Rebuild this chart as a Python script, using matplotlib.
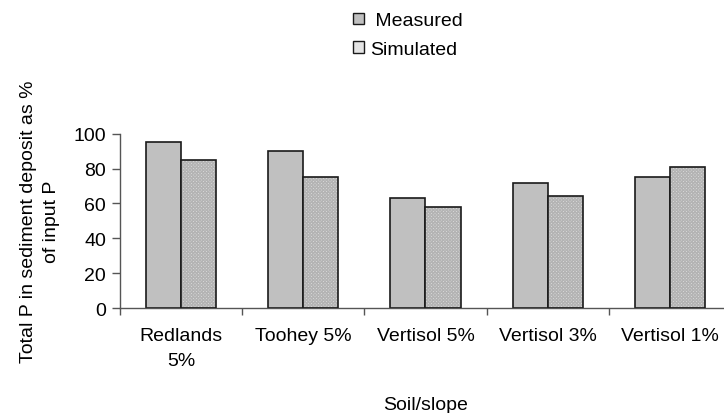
import matplotlib
matplotlib.use("Agg")
import matplotlib.pyplot as plt
from matplotlib.patches import Patch
import numpy as np

# data
soils = ["Redlands\n5%", "Toohey 5%", "Vertisol 5%", "Vertisol 3%", "Vertisol 1%"]
measured = [95, 90, 63, 72, 75]
simulated = [85, 75, 58, 64, 81]
y_ticks = [0, 20, 40, 60, 80, 100]

plt.rcParams['font.family'] = ['Liberation Sans', 'DejaVu Sans']
plt.rcParams['font.size'] = 14

fig = plt.figure(figsize=(7.24, 4.14), dpi=100)
ax = fig.add_axes([0.1657, 0.2536, 0.844, 0.421])

x = np.arange(len(soils))
w = 0.287
# measured bars: plain grey
ax.bar(x - w / 2, measured, w, color="#c0c0c0", edgecolor="#1a1a1a", linewidth=1.2, zorder=2)
# simulated bars: fine dotted fill, then a black outline on top
ax.bar(x + w / 2, simulated, w, color="#e4e4e4", edgecolor="#b4b4b4", hatch="xxxxxxxxxx",
       linewidth=0, zorder=2)
ax.bar(x + w / 2, simulated, w, color="none", edgecolor="#1a1a1a", linewidth=1.2, zorder=3)

ax.set_xlim(-0.5, len(soils) - 0.5)
ax.set_ylim(0, 100)
ax.set_yticks(y_ticks)
ax.set_xticks(x)
ax.set_xticklabels(soils, linespacing=1.55)
ax.set_xticks(np.arange(-0.5, len(soils), 1.0), minor=True)
ax.tick_params(axis="x", which="major", length=0, pad=14)
ax.tick_params(axis="x", which="minor", length=5, width=1, color="#555555", direction="out")
ax.tick_params(axis="y", length=6, width=1, color="#555555", pad=4)

for side in ["top", "right"]:
    ax.spines[side].set_visible(False)
for side in ["left", "bottom"]:
    ax.spines[side].set_color("#555555")
    ax.spines[side].set_linewidth(1)

ax.set_xlabel("Soil/slope", labelpad=20)
ax.set_ylabel("Total P in sediment deposit as %\nof input P", linespacing=1.45, labelpad=10)

handles = [Patch(facecolor="#c0c0c0", edgecolor="#1a1a1a", linewidth=1),
           Patch(facecolor="#e4e4e4", edgecolor="#1a1a1a", linewidth=1)]
fig.legend(handles, [" Measured", "Simulated"], loc="upper left", bbox_to_anchor=(0.488, 0.968),
           frameon=False, handlelength=0.55, handleheight=0.55, handletextpad=0.3,
           labelspacing=0.6, borderpad=0, borderaxespad=0)

fig.savefig("out.png", dpi=100)
